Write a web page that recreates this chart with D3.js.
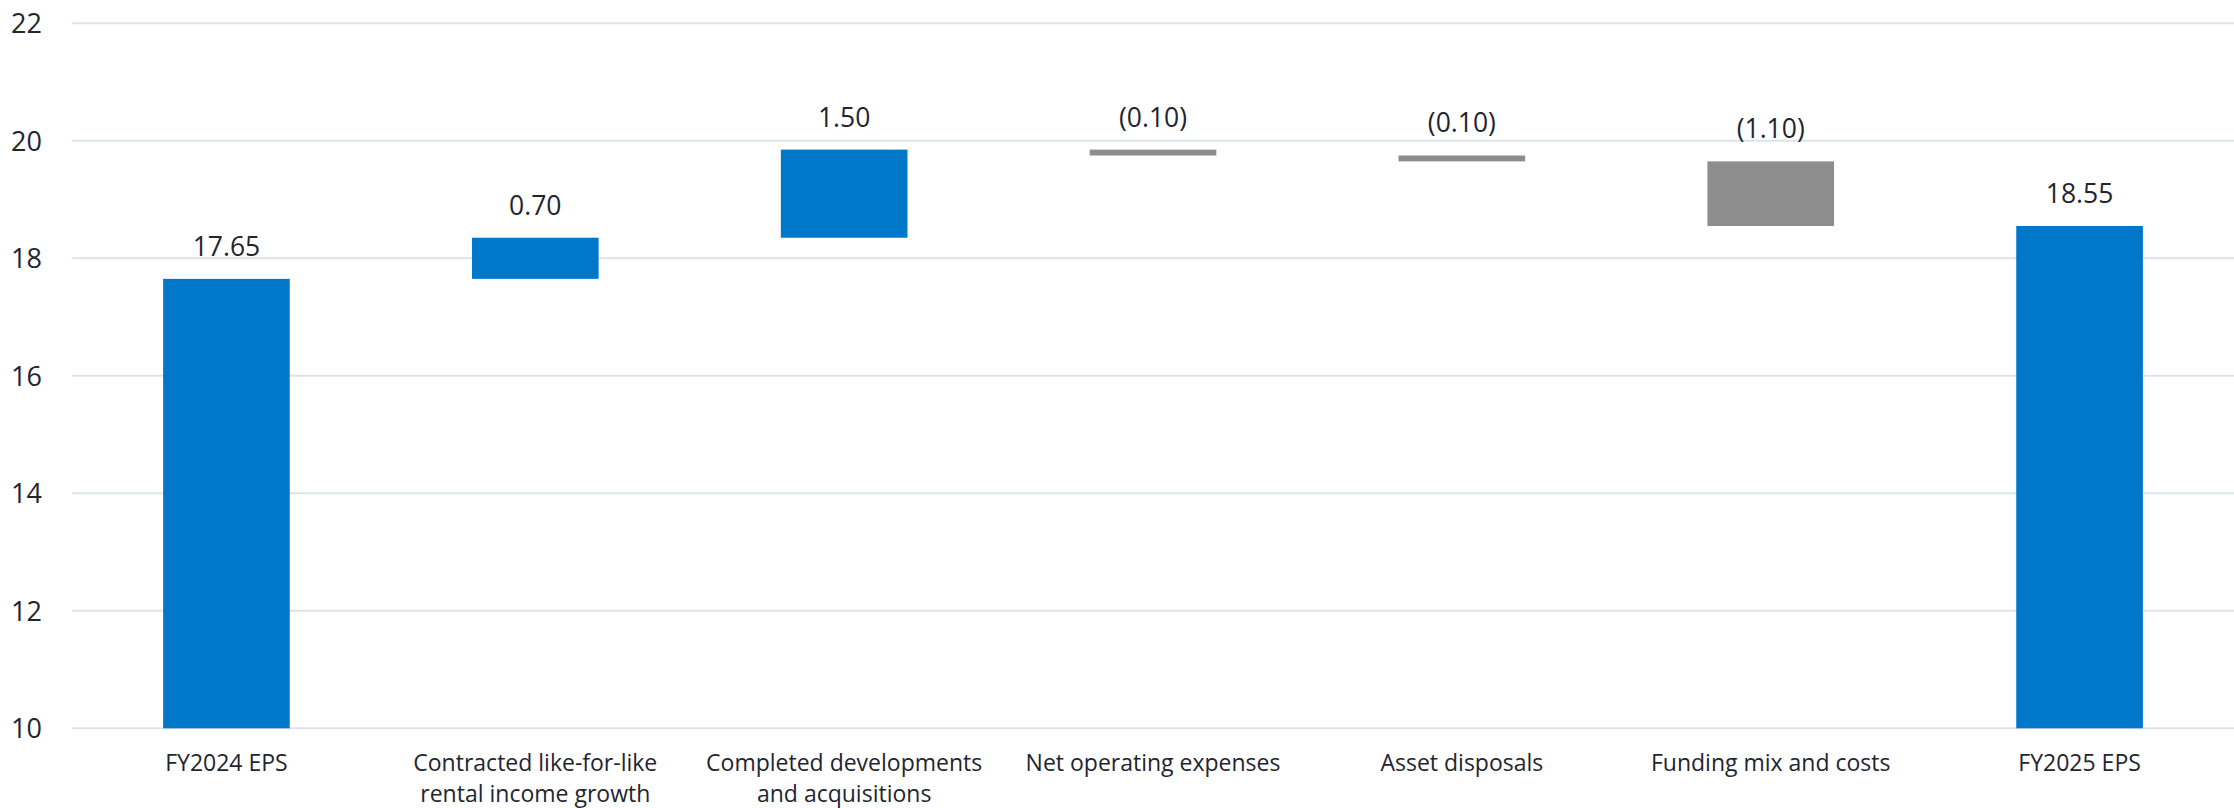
<!DOCTYPE html>
<html><head><meta charset="utf-8">
<script src="https://cdn.jsdelivr.net/npm/d3@7"></script>
<style>
html,body{margin:0;padding:0;background:#fff;}
text{font-family:"Open Sans","Noto Sans",sans-serif;fill:#1f2630;}
</style></head>
<body><svg id="c" width="2234" height="808"></svg>
<script>
const categories = [
  ["FY2024 EPS"],
  ["Contracted like-for-like", "rental income growth"],
  ["Completed developments", "and acquisitions"],
  ["Net operating expenses"],
  ["Asset disposals"],
  ["Funding mix and costs"],
  ["FY2025 EPS"]
];
const changes = [17.65, 0.70, 1.50, -0.10, -0.10, -1.10, 18.55];
const kinds = ["total", "delta", "delta", "delta", "delta", "delta", "total"];
const labels = ["17.65", "0.70", "1.50", "(0.10)", "(0.10)", "(1.10)", "18.55"];
const yTicks = [10, 12, 14, 16, 18, 20, 22];

const svg = d3.select("#c");
const mLeft = 72, mRight = 2234, mTop = 23.3, mBottom = 728.3;
const x = d3.scaleBand().domain(d3.range(categories.length)).range([mLeft, mRight]).paddingInner(0.59).paddingOuter(0.295);
const y = d3.scaleLinear().domain([10, 22]).range([mBottom, mTop]);

let run = 0;
const bars = changes.map((v, i) => {
  let lo, hi;
  if (kinds[i] === "total") { lo = 10; hi = v; run = v; }
  else { const s = run; run = run + v; lo = Math.min(s, run); hi = Math.max(s, run); }
  return {i, lo, hi, v, label: labels[i], color: (kinds[i] === "total" || v > 0) ? "#0077c8" : "#8c8d8c"};
});

svg.append("g").selectAll("line").data(yTicks).join("line")
  .attr("x1", mLeft).attr("x2", mRight)
  .attr("y1", d => y(d)).attr("y2", d => y(d))
  .attr("stroke", "#dde3ea").attr("stroke-width", 2);

svg.append("g").selectAll("text").data(yTicks).join("text")
  .attr("x", 42).attr("y", d => y(d)).attr("dy", "0.36em")
  .attr("text-anchor", "end").style("font-size", "27px").text(d => d);

svg.append("g").selectAll("rect").data(bars).join("rect")
  .attr("x", d => x(d.i)).attr("width", x.bandwidth())
  .attr("y", d => y(d.hi)).attr("height", d => y(d.lo) - y(d.hi))
  .attr("fill", d => d.color);

svg.append("g").selectAll("text").data(bars).join("text")
  .attr("x", d => x(d.i) + x.bandwidth() / 2).attr("y", d => y(d.hi) - 23)
  .attr("text-anchor", "middle").style("font-size", "26.5px").text(d => d.label);

const cg = svg.append("g").selectAll("text").data(categories).join("text")
  .attr("text-anchor", "middle").style("font-size", "23px")
  .attr("transform", (d, i) => `translate(${x(i) + x.bandwidth() / 2},771)`);
cg.selectAll("tspan").data(d => d).join("tspan")
  .attr("x", 0).attr("y", (d, j) => j * 31).text(d => d);
</script></body></html>
